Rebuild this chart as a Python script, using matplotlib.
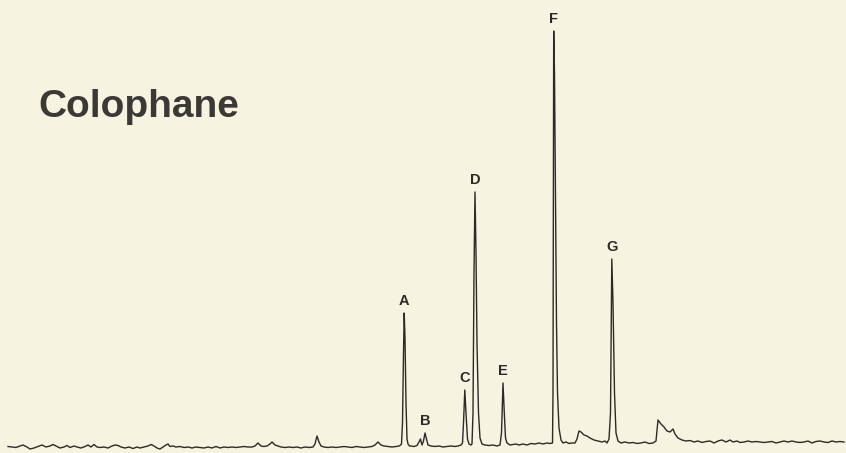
import matplotlib
matplotlib.use("Agg")
import matplotlib.pyplot as plt
import numpy as np

# chromatogram trace: retention (arb. units) and detector response
time = [
    8, 12, 16, 20, 23, 27, 30, 34, 38, 42, 46, 50, 53, 56, 60, 64, 67, 70, 74, 77,
    81, 85, 88, 91, 94, 97, 100, 104, 108, 112, 115, 118, 121, 125, 129, 133, 137, 140, 144, 148,
    151, 154, 157, 160, 163, 166, 168, 170, 173, 176, 180, 184, 188, 192, 196, 200,
    204, 208, 212, 216, 220, 224, 228, 232, 236, 240, 244, 248, 252, 255, 258, 261, 264, 267, 270, 272,
    275, 278, 281, 285, 289, 293, 297, 301, 305, 309, 313, 315, 317, 319, 321, 324, 328, 332, 336, 340,
    344, 348, 352, 356, 360, 364, 368, 372, 375, 378, 381, 384, 388, 392, 396, 399,
    400, 401.5, 402.5, 403.5, 404.2, 405, 406, 407, 408, 409.5,
    411, 414, 417, 419, 420.5, 422, 423.5, 425, 426.5, 428, 431, 435, 439, 443, 447, 451, 455, 458, 461,
    462.5, 463.5, 464.8, 466, 467.5, 469, 471,
    472, 473, 474, 475, 476, 477, 478.5, 480, 482, 485, 489, 493, 497, 500, 501.5,
    503, 504.3, 505.5, 507, 510, 513, 516, 519, 523, 527, 531, 535, 539, 543, 547, 550, 552.5,
    553, 553.7, 554.5, 555.5, 556.5, 557.5, 559, 561, 563, 566, 569, 572, 575, 577, 579, 581, 584, 587,
    590, 594, 598, 602, 605, 607, 609,
    610.5, 611.8, 613, 614.5, 616, 618, 621, 625, 629, 633, 637, 641, 645, 649, 653, 656,
    658, 661, 664, 667, 670, 673, 675, 678, 682, 686, 690, 694, 698, 702, 706, 710, 714, 718, 722, 726,
    730, 733, 737, 740, 744, 748, 752, 756, 760, 764, 768, 772, 776, 780, 784, 788, 792, 796, 800, 804,
    808, 812, 816, 820, 824, 828, 832, 836, 840, 844,
]
response = [
    6.5, 6, 5.5, 7, 8, 6, 4, 5, 6.5, 8, 6, 7, 8.5, 7, 5, 6, 7.5, 5.5, 7, 6,
    5, 6.5, 8, 6, 8.5, 6, 5.5, 6, 5, 7, 8, 7.5, 6, 5, 6, 4.5, 6, 5, 6, 7,
    8.5, 7, 5, 4, 6, 8, 9, 6.5, 7, 6, 6.5, 5.5, 6, 5, 6, 5.5,
    5, 6, 5, 6.5, 5, 6, 5.5, 6, 5.5, 6, 6.5, 6, 6, 7, 10, 7, 6.5, 7, 9, 11,
    8, 7, 6, 5.5, 6, 5.5, 6, 5, 6, 5.5, 6, 9, 17, 11, 7, 6, 5.5, 6, 5.5, 6,
    6.5, 6, 5.5, 6.5, 6, 5.5, 6, 6.5, 8, 11, 8, 7, 6.5, 6, 6.5, 7,
    7.5, 9, 30, 100, 140, 115, 50, 14, 9, 7,
    7, 6.5, 7.5, 11, 14, 8, 12, 20, 14, 8, 7, 6.5, 7, 6, 6.5, 7, 6.5, 7, 8,
    10, 30, 63, 40, 14, 9, 8,
    9, 40, 180, 261, 200, 110, 40, 15, 9, 8, 7.5, 8, 7, 8, 20,
    70, 40, 15, 10, 8, 8.5, 9, 8, 9, 8, 9.5, 9, 10, 9, 10, 9.5, 10,
    60, 422, 380, 250, 130, 60, 25, 13, 10, 11, 9.5, 10, 10, 14, 22, 21, 18, 17,
    15, 13, 12, 11, 12, 10, 14,
    40, 194, 150, 60, 20, 12, 10, 11, 10, 10.5, 9.5, 10, 11, 9.5, 10, 12,
    33, 29, 26, 22, 21, 24, 19, 15, 13, 12, 12.5, 11, 12, 10.5, 11.5, 12, 10, 12, 13, 11,
    13, 11, 12, 10.5, 11, 12, 11, 11.5, 11, 10.5, 11, 11.5, 10, 11, 12, 11, 12, 11, 10.5, 11,
    12, 10, 11.5, 12, 11, 10.5, 12, 11, 11.5, 11,
]

peak_names = ["A", "B", "C", "D", "E", "F", "G"]
peak_times = [404.2, 425, 464.8, 475, 503, 553.7, 611.8]

title = "Colophane"

BG = "#f6f3e0"
INK = "#2b2a28"

fig = plt.figure(figsize=(8.46, 4.53), dpi=100, facecolor=BG)
ax = fig.add_axes([0, 0, 1, 1])
ax.set_facecolor(BG)

ax.plot(time, response, color=INK, lw=1.0, solid_joinstyle="round")

for name, t in zip(peak_names, peak_times):
    top = np.interp(t, time, response)
    ax.annotate(name, (t, top), xytext=(0, 8.5), textcoords="offset points",
                ha="center", va="center", fontsize=10.5, fontweight="bold",
                family="Liberation Sans", color=INK)

fig.text(38 / 846, 1 - 117 / 453, title, ha="left", va="baseline",
         fontsize=28, fontweight="bold", family="Liberation Sans", color="#3b3936")

ax.set_xlim(0, 846)
ax.set_ylim(0, 453)
ax.axis("off")

fig.savefig("out.png", dpi=100, facecolor=BG)
